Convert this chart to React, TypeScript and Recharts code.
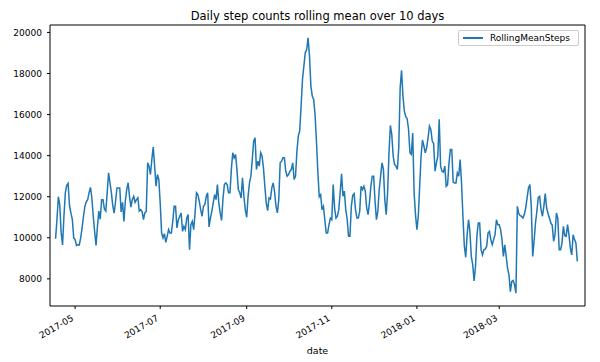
import { Legend, Line, LineChart, ReferenceArea, XAxis, YAxis } from "recharts";

// daily series, one value per day starting at firstDate
const firstDate = "2017-04-17";
const rollingMeanSteps = [
  9950, 10900, 12000, 11600, 10250, 9650, 11050, 12200, 12550, 12650,
  11550, 11200, 10900, 10000, 9900, 9630, 9660, 9650, 10000, 10480,
  11050, 11530, 11750, 11850, 12200, 12450, 11950, 11050, 10300, 9630,
  10550, 11300, 10900, 11850, 11850, 11400, 11300, 12200, 13160, 12680,
  12200, 11550, 11200, 11780, 12430, 12430, 12430, 11260, 11730, 10800,
  11780, 12350, 12680, 12020, 11490, 11860, 12020, 11730, 11860, 11950,
  11300,
  11370, 11290, 10880, 11210, 11290, 13650, 13490, 13080, 13810, 14420,
  13490, 12510, 13080, 12840, 11700, 10230, 9990, 10200, 9780, 10070,
  10400, 10230, 10230, 10800, 11530, 11530, 10480, 10880, 11050, 11210,
  10310, 10560, 10400, 10960, 11130, 9420, 10640, 10800, 10400, 11210,
  12190, 12100, 11780, 11370, 11050, 11530, 11620, 12020, 12190, 10530,
  10960, 11290, 11700, 12100, 11860, 12590, 11700, 11200, 10850, 11900,
  12590, 12670, 12590, 12190,
  12190, 13330, 14140, 13890, 14060, 13330, 12350, 12190, 11940, 12920,
  12020, 11370, 11000, 12020, 12670, 13000, 13810, 14710, 14870, 13330,
  13730, 13490, 14140, 13980, 13410, 12510, 11700, 11320, 11940, 11890,
  12430, 12670, 12220, 11530, 11210, 11860, 13650, 13730, 13900, 13900,
  13240, 13000, 13080, 13240, 13330, 13650, 12840, 13000, 14220, 14950,
  15200, 16420, 17720, 18370, 19020, 19150, 19740, 18860, 17400, 16900,
  16740, 16000, 14700, 13200, 12000,
  12100, 11370, 11530, 10880, 10230, 10230, 10640, 10960, 10880, 12590,
  11450, 10960, 11050, 11370, 12190, 13110, 12020, 12270, 11370, 10920,
  10070, 10070, 11530, 12070, 12150, 11370, 10960, 10960, 11290, 12510,
  12350, 12510, 12270, 11450, 11130, 11700, 12510, 13000, 13000, 11780,
  10880, 11290, 12350, 13000, 13650, 13330, 11860, 11130, 12190, 14140,
  15470, 15030, 13980, 13570, 13490, 13330, 14380, 17300, 18150, 16900,
  16170, 15900, 15800, 15300,
  14140, 14060, 15100, 12190, 11130, 10400, 11050, 12510, 13980, 14760,
  14470, 14140, 14380, 14870, 15440, 15280, 14710, 14580, 13240, 13650,
  13980, 15770, 13490, 13240, 13200, 13490, 12510, 12590, 13650, 14300,
  14300, 12710, 12670, 12670, 13160, 13000, 13810, 12670, 11050, 9600,
  9050, 10150, 10880, 10310, 9090, 8690, 7900, 8600, 10070, 10720,
  10720, 9420, 9170, 9420, 9450, 9580, 10230, 10310, 9910, 9660,
  9910, 10150, 10880, 10640, 10640,
  10400, 9910, 9090, 9660, 9090, 8520, 8200, 7380, 7870, 7920,
  7710, 7300, 11530, 11180, 11080, 11050, 10960, 11130, 11450, 11940,
  12430, 12590, 11530, 9090, 9830, 10720, 11290, 11970, 12020, 11370,
  11050, 11530, 12150, 11450, 11180, 10960, 10720, 10610, 9830, 10150,
  11210, 10960, 9420, 9420, 9740, 10560, 10100, 10070, 10640, 10150,
  9500, 9170, 10150, 9910, 9740, 8850,
];

const axisStart = "2017-04-13";
const axisEnd = "2018-05-01";
const tickDates = ["2017-05-01", "2017-07-01", "2017-09-01", "2017-11-01", "2018-01-01", "2018-03-01"];
const tickLabels = ["2017-05", "2017-07", "2017-09", "2017-11", "2018-01", "2018-03"];
const yTicks = [8000, 10000, 12000, 14000, 16000, 18000, 20000];

const FONT = "DejaVu Sans, sans-serif";
const BLUE = "#1f77b4";

function dayOf(date: string) {
  return (Date.parse(date) - Date.parse(axisStart)) / 86400000;
}

const tickDays = tickDates.map(dayOf);
const data = rollingMeanSteps.map((v, i) => ({ day: dayOf(firstDate) + i, RollingMeanSteps: v }));

// matplotlib style 5% padding around the data range
const yMin = Math.min(...rollingMeanSteps);
const yMax = Math.max(...rollingMeanSteps);
const pad = (yMax - yMin) * 0.05;
const yDomain: [number, number] = [yMin - pad, yMax + pad];
const xDomain: [number, number] = [0, dayOf(axisEnd) + 0.5];

// rotated date labels, right end anchored under the tick
function DateTick(props: any) {
  const { x, y, payload } = props;
  const label = tickLabels[tickDays.indexOf(payload.value)];
  const tx = x - 1;
  const ty = y + 9;
  return (
    <text
      x={tx}
      y={ty}
      transform={`rotate(-30, ${tx}, ${ty})`}
      textAnchor="end"
      fontSize={9}
      fontFamily={FONT}
      fill="#000"
    >
      {label}
    </text>
  );
}

function LegendBox() {
  return (
    <div
      style={{
        border: "1px solid #cccccc",
        borderRadius: 2,
        background: "rgba(255,255,255,0.8)",
        height: 16,
        display: "flex",
        alignItems: "center",
        fontFamily: FONT,
        fontSize: 9,
        color: "#000",
        boxSizing: "border-box",
      }}
    >
      <span style={{ display: "inline-block", width: 20, height: 1.5, background: BLUE, marginLeft: 4, marginRight: 7 }} />
      <span>RollingMeanSteps</span>
    </div>
  );
}

export default function App() {
  return (
    <div style={{ position: "absolute", left: 0, top: 0, width: 600, height: 362, background: "#fff" }}>
      <div
        style={{
          position: "absolute",
          top: 9,
          left: 50,
          width: 535,
          textAlign: "center",
          fontFamily: FONT,
          fontSize: 11.5,
          lineHeight: "14px",
          color: "#000",
        }}
      >
        Daily step counts rolling mean over 10 days
      </div>
      <LineChart width={600} height={362} data={data} margin={{ top: 25, right: 15, bottom: 0, left: 0 }}>
        <XAxis
          dataKey="day"
          type="number"
          domain={xDomain}
          ticks={tickDays}
          tick={<DateTick />}
          tickSize={3}
          tickMargin={2}
          axisLine={false}
          tickLine={{ stroke: "#000" }}
          height={56}
          allowDataOverflow
          label={{ value: "date", position: "insideBottom", offset: 8, fontSize: 9.5, fontFamily: FONT, fill: "#000" }}
        />
        <YAxis
          type="number"
          domain={yDomain}
          ticks={yTicks}
          width={50}
          tickSize={3}
          tickMargin={5}
          axisLine={false}
          tickLine={{ stroke: "#000" }}
          tick={{ fontSize: 9, fontFamily: FONT, fill: "#000" }}
          allowDataOverflow
        />
        <ReferenceArea
          x1={xDomain[0]}
          x2={xDomain[1]}
          y1={yDomain[0]}
          y2={yDomain[1]}
          fill="none"
          stroke="#000"
          strokeWidth={1}
          ifOverflow="visible"
        />
        <Line
          type="linear"
          dataKey="RollingMeanSteps"
          stroke={BLUE}
          strokeWidth={1.5}
          dot={false}
          isAnimationActive={false}
        />
        <Legend
          layout="horizontal"
          verticalAlign="middle"
          align="center"
          wrapperStyle={{ position: "absolute", top: 30, left: 458, width: 121, height: 16 }}
          content={<LegendBox />}
        />
      </LineChart>
    </div>
  );
}
